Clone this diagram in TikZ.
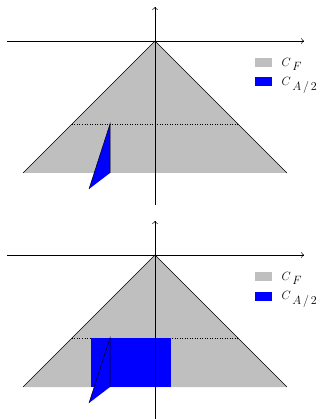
\documentclass[tikz,border=0pt]{standalone}
\usepackage{amsmath,amssymb}
\usepackage{xcolor}
\usepackage{tikz}
\usetikzlibrary{positioning,arrows.meta}

\begin{document}
\begin{tikzpicture}[x=1pt, y=1pt, line width=0.5pt,
    cone/.style={fill=black!25},
    part/.style={fill=blue},
    keybox/.style={minimum width=17pt, minimum height=9pt, inner sep=0pt},
    keytext/.style={inner sep=0pt, anchor=base west, font=\large},
    every node/.style={font=\normalsize}]
  \useasboundingbox (-155,41) rectangle (173,-378);
  \foreach \panel in {0,1} {
    \begin{scope}[yshift=-214*\panel]
      % the cone C_F
      \fill[cone] (0,0) -- (-132,-132) -- (132,-132) -- cycle;
      \draw (-132,-132) -- (0,0) -- (132,-132);
      \draw[dotted] (-83,-83) -- (83,-83);
      % the piece C_A/2
      \ifnum\panel=1
        \fill[part] (-64,-83) rectangle (16,-132);
      \fi
      \fill[part] (-45,-83) -- (-45,-132) -- (-66,-148) -- cycle;
      \draw (-45,-132) -- (-45,-83) -- (-66,-148);
      % axes
      \draw[->] (-148,0) -- (149,0);
      \draw[->] (0,-164) -- (0,34);
      % legend
      \node[keybox, cone] (kf) at (108.5,-21.5) {};
      \node[keybox, part, below=10pt of kf] (ka) {};
      \node[keytext] (lf) at ([xshift=9pt, yshift=1pt]kf.south east)
        {$C_{\;\textstyle F}$};
      \node[keytext] (la) at ([xshift=9pt, yshift=1pt]ka.south east)
        {$C_{\;\textstyle A\,/\,2}$};
    \end{scope}
  }
\end{tikzpicture}
\end{document}
